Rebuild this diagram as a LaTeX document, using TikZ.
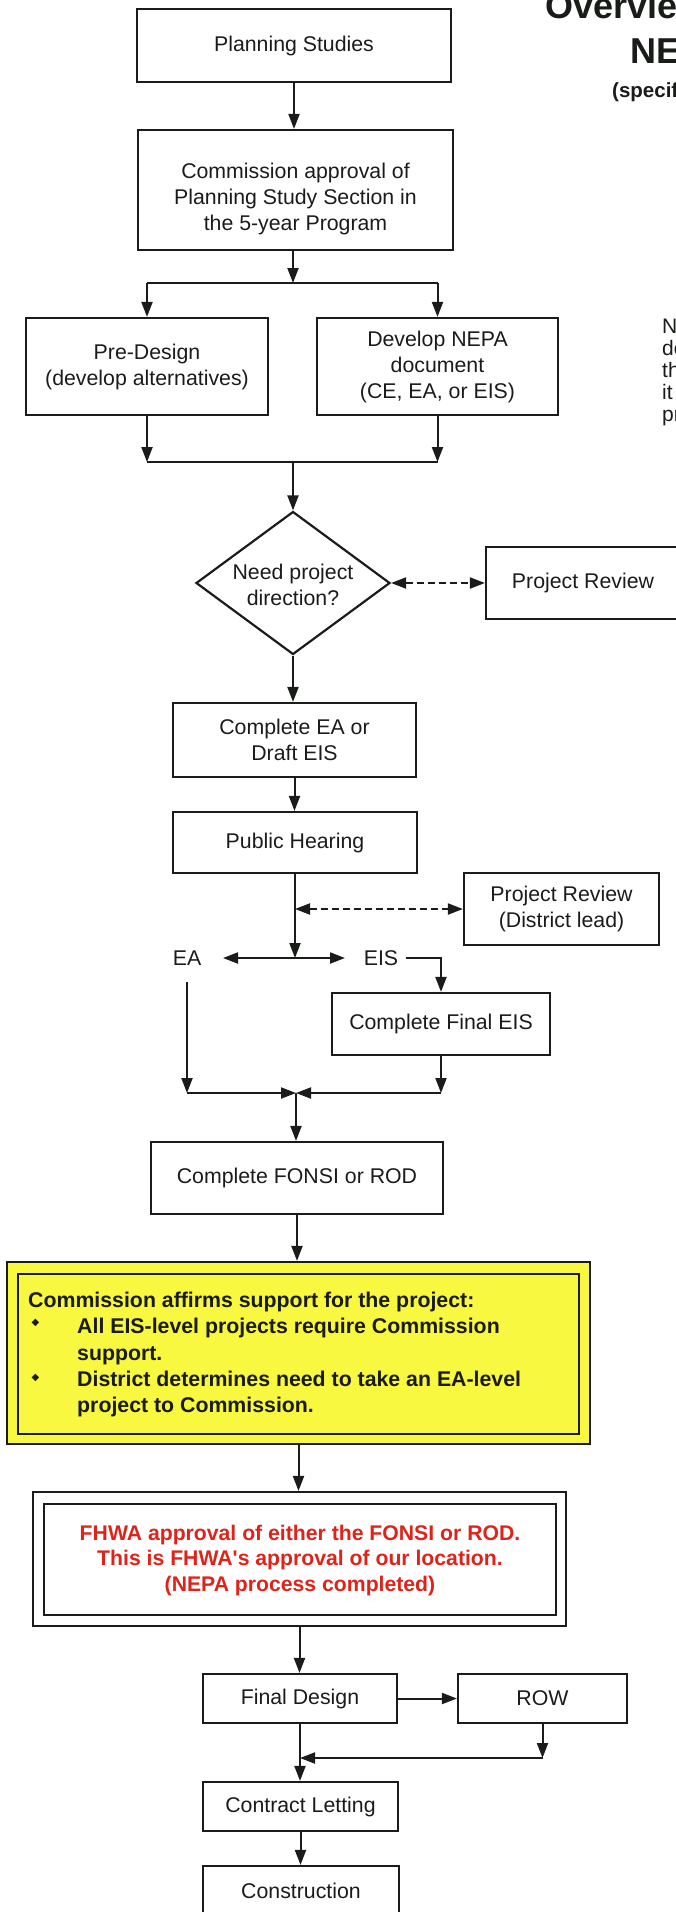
\documentclass[tikz,border=0pt]{standalone}
\usepackage{fontspec}
\setmainfont{Liberation Sans}
\newfontfamily\symfont{DejaVu Sans}
\usetikzlibrary{arrows.meta,shapes.geometric,calc}

\definecolor{ink}{RGB}{25,28,25}
\definecolor{notefill}{RGB}{248,248,64}
\definecolor{alertred}{RGB}{222,36,26}

\tikzset{
  txt/.style={text=ink, inner sep=0pt, align=center, font=\fontsize{21.3}{26}\selectfont},
  proc/.style={txt, draw=ink, line width=2.2pt},
  boldtxt/.style={text=ink, inner sep=0pt, font=\fontsize{21.3}{26}\selectfont\bfseries},
  redtxt/.style={text=alertred, inner sep=0pt, align=center, font=\fontsize{21.2}{25.5}\selectfont\bfseries},
  notetxt/.style={text=ink, inner sep=0pt, font=\fontsize{21}{22}\selectfont},
  bul/.style={text=ink, inner sep=0pt, font=\symfont\fontsize{10}{10}\selectfont},
  frame/.style={draw=ink, line width=2.1pt},
  conn/.style={draw=ink, line width=2pt},
  tip/.tip={Triangle[length=15pt,width=11pt]},
  arr/.style={conn, -tip},
  dbl/.style={conn, tip-tip},
  dashdbl/.style={dbl, dash pattern=on 7pt off 4pt},
}

\begin{document}
\begin{tikzpicture}[x=1pt,y=-1pt]
\useasboundingbox (0,0) rectangle (676,1912);
\clip (0,0) rectangle (676,1912);

% heading at the top right, running off the page edge
\node[boldtxt, font=\fontsize{36}{40}\selectfont\bfseries, anchor=base west] (t1) at (545,18) {Overvie};
\node[boldtxt, font=\fontsize{36}{40}\selectfont\bfseries, anchor=base west] (t2) at (630,63) {NE};
\node[boldtxt, font=\fontsize{20.5}{24}\selectfont\bfseries, anchor=base west] (t3) at (612,97) {(specif};

% side note, also cut by the page edge
\node[notetxt, anchor=base west] (n1) at (662,333) {N};
\node[notetxt, anchor=base west] (n2) at (662,355) {do};
\node[notetxt, anchor=base west] (n3) at (662,377) {th};
\node[notetxt, anchor=base west] (n4) at (662,399) {it};
\node[notetxt, anchor=base west] (n5) at (662,421) {pr};

% planning stage
\node[proc, minimum width=314pt, minimum height=73pt] (plan) at (294,45.5) {Planning Studies};
\node[proc, minimum width=315pt, minimum height=120pt] (comm) at (295.5,190) {};
\node[txt] (commtxt) at ([yshift=-9pt]comm.center) {Commission approval of\\Planning Study Section in\\the 5-year Program};
\node[proc, minimum width=242pt, minimum height=97pt] (pre) at (147,366.5) {Pre-Design\\(develop alternatives)};
\node[proc, minimum width=241pt, minimum height=97pt] (nepa) at (437.5,366.5) {Develop NEPA\\document\\(CE, EA, or EIS)};

% decision
\node[draw=ink, line width=2.2pt, diamond, minimum width=194pt, minimum height=143pt, inner sep=0pt] (need) at (293,583) {};
\node[txt] (needtxt) at ([yshift=-2pt]need.center) {Need project\\direction?};
\node[proc, minimum width=194pt, minimum height=72pt] (prj1) at (583,583) {Project Review};

% environmental documents
\node[proc, minimum width=243pt, minimum height=74pt] (cea) at (294.5,740) {Complete EA or\\Draft EIS};
\node[proc, minimum width=244pt, minimum height=61pt] (ph) at (295,842.5) {Public Hearing};
\node[proc, minimum width=195pt, minimum height=72pt] (prj2) at (561.5,909) {Project Review\\(District lead)};
\node[txt] (ea) at (187,958) {EA};
\node[txt] (eis) at (381,958) {EIS};
\node[proc, minimum width=218pt, minimum height=62pt] (feis) at (441,1024) {Complete Final EIS};
\node[proc, minimum width=292pt, minimum height=72pt] (fonsi) at (297,1178) {Complete FONSI or ROD};

% commission support note
\node[draw=ink, line width=2.2pt, fill=notefill, minimum width=583pt, minimum height=182pt, inner sep=0pt] (yel) at (298.5,1353) {};
\draw[frame] ([shift={(12,13)}]yel.north west) rectangle ([shift={(-12,-11)}]yel.south east);
\node[boldtxt, anchor=base west] (y1) at (28,1307) {Commission affirms support for the project:};
\node[bul] (b1) at (35.5,1323) {◆};
\node[boldtxt, anchor=base west] (y2) at (77,1333) {All EIS-level projects require Commission};
\node[boldtxt, anchor=base west] (y3) at (77,1360) {support.};
\node[bul] (b2) at (35.5,1378) {◆};
\node[boldtxt, anchor=base west] (y4) at (77,1386) {District determines need to take an EA-level};
\node[boldtxt, anchor=base west] (y5) at (77,1412) {project to Commission.};

% FHWA approval
\node[draw=ink, line width=2.2pt, minimum width=533pt, minimum height=134pt, inner sep=0pt] (fhwa) at (299.5,1559) {};
\draw[frame] ([shift={(12,13)}]fhwa.north west) rectangle ([shift={(-11,-12)}]fhwa.south east);
\node[redtxt] (fhwatxt) at (300,1560) {FHWA approval of either the FONSI or ROD.\\This is FHWA\textquotesingle s approval of our location.\\(NEPA process completed)};

% design and construction
\node[proc, minimum width=194pt, minimum height=49pt] (fd) at (300,1698.5) {Final Design};
\node[proc, minimum width=169pt, minimum height=49pt] (row) at (542.5,1698.5) {ROW};
\node[proc, minimum width=195pt, minimum height=49pt] (cl) at (300.5,1806.5) {Contract Letting};
\node[proc, minimum width=196pt, minimum height=49pt] (con) at (301,1890.5) {Construction};

% junction points
\coordinate (s1) at (293,283);
\coordinate (m1) at (293,462);
\coordinate (j1) at (295,958);
\coordinate (eaL) at (223,958);
\coordinate (eisR) at (345,958);
\coordinate (eaTop) at (187,982);
\coordinate (mrg) at (296,1093);
\coordinate (j3) at (300,1758);

% connectors
\draw[arr] (plan.south) -- (plan.south |- comm.north);
\draw[arr] (comm.south -| s1) -- (s1);
\draw[conn] (s1 -| pre) -- (s1 -| nepa);
\draw[arr] (s1 -| pre) -- (pre.north);
\draw[arr] (s1 -| nepa) -- (nepa.north);
\draw[arr] (pre.south) -- (pre.south |- m1);
\draw[arr] (nepa.south) -- (nepa.south |- m1);
\draw[conn] (m1 -| pre) -- (m1 -| nepa);
\draw[arr] (m1) -- (need.north);
\draw[dashdbl] (need.east) -- (prj1.west);
\draw[arr] (need.south) -- (need.south |- cea.north);
\draw[arr] (cea.south) -- (cea.south |- ph.north);
\draw[arr] (ph.south -| j1) -- (j1);
\draw[dashdbl] (j1 |- prj2.west) -- (prj2.west);
\draw[dbl] (eaL) -- (eisR);
\draw[arr] ([xshift=8pt]eis.east) -| (feis.north);
\draw[arr] (eaTop) -- (eaTop |- mrg);
\draw[arr] (feis.south) -- (feis.south |- mrg);
\draw[arr] (eaTop |- mrg) -- (mrg);
\draw[arr] (feis.south |- mrg) -- (mrg);
\draw[arr] (mrg) -- (mrg |- fonsi.north);
\draw[arr] (fonsi.south) -- (fonsi.south |- yel.north);
\draw[arr] (yel.south) -- (yel.south |- fhwa.north);
\draw[arr] (fhwa.south) -- (fhwa.south |- fd.north);
\draw[arr] (fd.east) -- (row.west);
\draw[arr] (row.south) -- (row.south |- j3);
\draw[arr] (row.south |- j3) -- (j3);
\draw[arr] (fd.south) -- (fd.south |- cl.north);
\draw[arr] (cl.south) -- (cl.south |- con.north);
\end{tikzpicture}
\end{document}
